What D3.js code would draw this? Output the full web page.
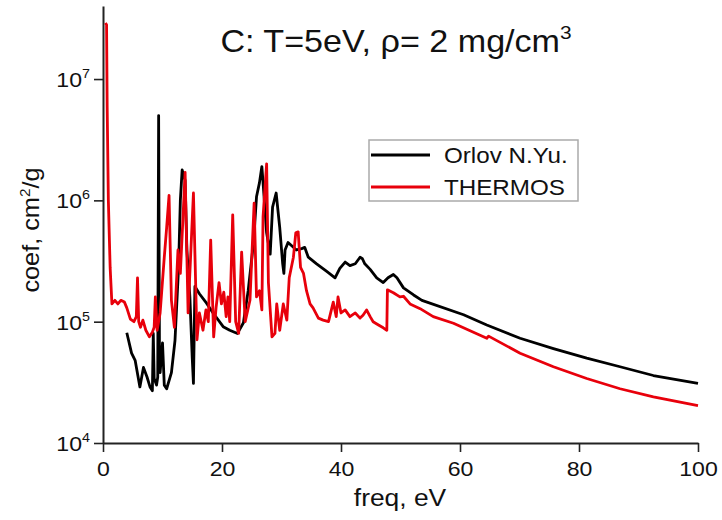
<!DOCTYPE html>
<html>
<head>
<meta charset="utf-8">
<script src="https://cdn.jsdelivr.net/npm/d3@7"></script>
<style>
  body { margin: 0; background: #fff; }
  svg { font-family: "Liberation Sans", Arial, sans-serif; }
</style>
</head>
<body>
<svg width="722" height="520"></svg>
<script>
// Orlov N.Yu. (black) - freq in eV, coef in cm^2/g
const orlovFreq = [4.0, 4.8, 5.4, 6.2, 6.8, 7.4, 7.9, 8.3, 8.45, 8.6, 9.0, 9.2, 9.35, 9.5, 9.6, 10.0, 10.3, 10.7,
  11.5, 12.1, 12.7, 13.0, 13.3, 13.8, 14.1, 14.6, 15.0, 15.2, 15.45, 16.2, 17.4, 18.5, 20.2, 21.3, 22.6, 23.6,
  24.4, 25.3, 25.8, 26.3, 26.7, 26.9, 27.5, 28.1, 28.5, 29.1, 29.7, 30.2, 30.4, 30.6, 31.1, 32.0, 32.5, 33.4,
  33.9, 34.5, 35.9, 37.6, 39.0, 39.8, 40.7, 41.5, 42.4, 43.2, 43.6, 44.0, 44.9, 46.0, 47.1, 47.9, 48.8, 49.4,
  50.5, 52.2, 53.6, 60.6, 64.5, 70.1, 75.7, 81.3, 86.9, 92.5, 100];
const orlovCoef = [8.1e4, 5.5e4, 4.8e4, 2.9e4, 4.2e4, 3.5e4, 2.9e4, 2.7e4, 8e4, 3.4e4, 3.0e4, 3.5e4, 5e6, 4e4, 3.8e4, 6.7e4, 3.0e4, 2.8e4,
  3.8e4, 7e4, 2.8e5, 1e6, 1.78e6, 1.46e6, 3.9e5, 1.6e5, 5e4, 3.1e4, 1.95e5, 1.7e5, 1.42e5, 1.18e5, 9.1e4, 8.5e4, 8e4, 9.8e4,
  1.8e5, 4.5e5, 1.07e6, 1.4e6, 1.9e6, 1.4e6, 5.4e5, 3.6e5, 8.8e5, 1.15e6, 6e5, 3.0e5, 2.5e5, 3.9e5, 4.5e5, 4.1e5, 3.9e5, 4.0e5,
  4.1e5, 3.4e5, 3.0e5, 2.6e5, 2.3e5, 2.75e5, 3.1e5, 2.9e5, 3.0e5, 3.4e5, 3.3e5, 3.0e5, 2.7e5, 2.3e5, 2.1e5, 2.3e5, 2.45e5, 2.3e5,
  1.9e5, 1.66e5, 1.5e5, 1.14e5, 9.4e4, 7.3e4, 6.0e4, 5.0e4, 4.25e4, 3.6e4, 3.1e4];

// THERMOS (red)
const thermosFreq = [0.4, 0.6, 0.7, 0.9, 1.2, 1.5, 2.0, 2.5, 3.0, 3.6, 4.0, 4.6, 5.2, 5.6, 5.8, 6.0, 6.3, 6.7, 7.2, 7.8,
  8.3, 8.6, 8.8, 9.1, 9.6, 10.3, 10.7, 11.1, 11.5, 12.0, 12.6, 13.0, 13.8, 14.3, 15.2, 15.8, 16.2, 16.8, 17.3, 17.7,
  18.1, 18.6, 19.0, 19.5, 19.9, 20.3, 20.7, 21.0, 21.3, 21.8, 22.3, 22.8, 23.3, 23.9, 24.7, 25.4, 25.8, 26.3, 26.7,
  26.9, 27.5, 27.8, 28.4, 28.9, 29.2, 29.7, 30.3, 30.9, 31.3, 32.0, 32.4, 32.8, 33.2, 33.7, 34.2, 34.8, 35.3, 36.2,
  37.0, 37.9, 38.7, 39.2, 39.5, 40.0, 40.7, 41.5, 42.4, 43.2, 43.7, 44.3, 44.9, 45.4, 46.3, 47.1, 47.7, 47.8, 48.8,
  49.9, 50.5, 51.6, 53.3, 55.5, 58.9, 64.5, 64.8, 70.1, 75.7, 81.3, 86.9, 92.5, 100];
const thermosCoef = [2.9e7, 2.8e7, 6e6, 1e6, 2.8e5, 1.4e5, 1.5e5, 1.4e5, 1.5e5, 1.45e5, 1.3e5, 1.05e5, 1.0e5, 1.1e5, 2.3e5, 1.0e5, 9e4, 1.03e5, 8.5e4, 7.5e4,
  8.2e4, 9e4, 1.6e5, 8.5e4, 1.18e5, 3.4e5, 6e5, 1.1e6, 1.5e5, 9e4, 3.9e5, 2.5e5, 1.7e6, 1.18e5, 1.15e6, 7.1e4, 1.18e5, 8.5e4, 1.25e5, 1.0e5,
  4.7e5, 7.5e4, 1.3e5, 2.1e5, 1.4e5, 1.75e5, 1.1e5, 1.6e5, 1.0e5, 7.6e5, 1.0e5, 8e4, 3.75e5, 1.0e5, 1.5e5, 9.5e5, 1.6e5, 1.8e5, 1.25e5,
  7.3e5, 2.0e6, 2.1e5, 7.5e4, 8e4, 1.4e5, 8.5e4, 1.4e5, 1.03e5, 2.3e5, 3.4e5, 5.4e5, 5.5e5, 2.8e5, 2.5e5, 1.8e5, 1.4e5, 1.3e5, 1.07e5,
  1.03e5, 1.0e5, 1.45e5, 1.1e5, 1.6e5, 1.18e5, 1.25e5, 1.1e5, 1.18e5, 1.07e5, 1.13e5, 1.25e5, 1.1e5, 1.0e5, 9.4e4, 8.9e4, 8.5e4, 1.83e5, 1.73e5,
  1.6e5, 1.62e5, 1.4e5, 1.28e5, 1.1e5, 9.7e4, 7.3e4, 7.6e4, 5.5e4, 4.25e4, 3.4e4, 2.8e4, 2.4e4, 2.03e4];

const xMajor = [0, 20, 40, 60, 80, 100];
const xMinor = [10, 30, 50, 70, 90];
const yMajorExp = [4, 5, 6, 7];
const seriesNames = ["Orlov N.Yu.", "THERMOS"];
const seriesColors = ["#000000", "#e8000b"];

const SX = 1.1; // source picture is slightly stretched horizontally
const svg = d3.select("svg");

const x = d3.scaleLinear().domain([0, 100]).range([103, 698]);
const y = d3.scaleLog().domain([1e4, 4e7]).range([443, 6]);

// minor y ticks: 2..9 in each decade
const yMinor = [];
for (let e = 4; e <= 7; e++) {
  for (let k = 2; k <= 9; k++) {
    const v = k * Math.pow(10, e);
    if (v <= 4e7) yMinor.push(v);
  }
}

// stretched text helper
function label(parent, px, py, anchor, size) {
  return parent.append("text")
    .attr("transform", `translate(${px},${py}) scale(${SX},1)`)
    .attr("text-anchor", anchor)
    .attr("fill", "#111")
    .style("font-size", size + "px");
}

// x axis
const gx = svg.append("g").attr("transform", `translate(0,${y.range()[0]})`);
gx.call(d3.axisBottom(x).tickValues(xMinor).tickSize(5).tickFormat(""));
gx.call(d3.axisBottom(x).tickValues(xMajor).tickSize(9).tickFormat(d3.format("d")).tickSizeOuter(0));
gx.selectAll("path").attr("stroke", "#222").attr("stroke-width", 2);
gx.selectAll("line").attr("stroke", "#222").attr("stroke-width", 1.6);
gx.selectAll("text")
  .attr("y", 33).attr("dy", 0)
  .attr("transform", `scale(${SX},1)`)
  .attr("fill", "#111")
  .style("font-size", "21px").style("font-family", "Liberation Sans, Arial, sans-serif");

// y axis
const gy = svg.append("g").attr("transform", `translate(${x.range()[0]},0)`);
gy.call(d3.axisLeft(y).tickValues(yMinor).tickSize(4).tickFormat(""));
gy.call(d3.axisLeft(y).tickValues(yMajorExp.map(e => Math.pow(10, e))).tickSize(9).tickSizeOuter(0).tickFormat(""));
gy.selectAll("path").attr("stroke", "#222").attr("stroke-width", 2);
gy.selectAll("line").attr("stroke", "#222").attr("stroke-width", 1.6);

yMajorExp.forEach(e => {
  const t = label(svg, x.range()[0] - 13, y(Math.pow(10, e)) + 8, "end", 21);
  t.append("tspan").text("10");
  t.append("tspan").attr("dy", -9).style("font-size", "13px").text(e);
});

// axis titles
label(svg, 400, 506, "middle", 24).text("freq, eV");
const yl = svg.append("text")
  .attr("transform", `translate(39,230) rotate(-90) scale(${SX},1)`)
  .attr("text-anchor", "middle")
  .attr("fill", "#111")
  .style("font-size", "23px");
yl.append("tspan").text("coef, cm");
yl.append("tspan").attr("dy", -9).style("font-size", "14px").text("2");
yl.append("tspan").attr("dy", 9).text("/g");

// title
const title = label(svg, 396, 52, "middle", 31);
title.append("tspan").text("C: T=5eV, \u03c1= 2 mg/cm");
title.append("tspan").attr("dy", -13).style("font-size", "19px").text("3");

// curves
const line = d3.line().x(d => x(d[0])).y(d => y(d[1]));
const orlov = orlovFreq.map((f, i) => [f, orlovCoef[i]]);
const thermos = thermosFreq.map((f, i) => [f, thermosCoef[i]]);

svg.append("path").datum(orlov)
  .attr("fill", "none").attr("stroke", seriesColors[0]).attr("stroke-width", 2.8)
  .attr("stroke-linejoin", "round").attr("d", line);
svg.append("path").datum(thermos)
  .attr("fill", "none").attr("stroke", seriesColors[1]).attr("stroke-width", 2.8)
  .attr("stroke-linejoin", "round").attr("d", line);

// legend
const lg = svg.append("g");
lg.append("rect").attr("x", 369).attr("y", 140).attr("width", 209).attr("height", 61)
  .attr("fill", "#fff").attr("stroke", "#aaa").attr("stroke-width", 1.5);
seriesNames.forEach((name, i) => {
  const ly = 155 + i * 32;
  lg.append("line").attr("x1", 371).attr("x2", 430).attr("y1", ly).attr("y2", ly)
    .attr("stroke", seriesColors[i]).attr("stroke-width", 3);
  label(lg, 444, ly + 8, "start", 22).text(name);
});
</script>
</body>
</html>
